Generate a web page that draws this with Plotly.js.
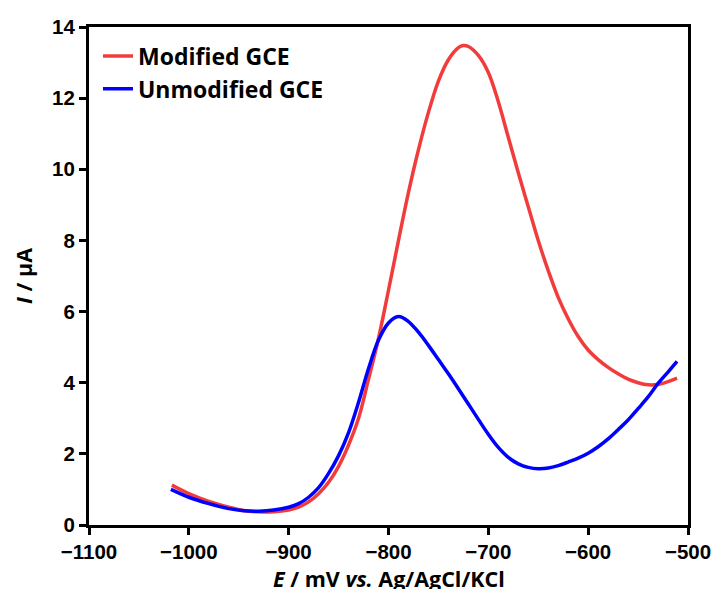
<!DOCTYPE html>
<html>
<head>
<meta charset="utf-8">
<script src="https://cdn.plot.ly/plotly-3.0.1.min.js"></script>
<style>html,body{margin:0;padding:0;background:#fff;}#chart{width:716px;height:589px;}</style>
</head>
<body>
<div id="chart"></div>
<script>
const modifiedE = [-1017,-1000,-980,-960,-945,-930,-915,-900,-890,-880,-870,-860,-850,-840,-830,-820,-810,-800,-790,-780,-770,-760,-750,-740,-730,-725,-720,-710,-700,-690,-680,-670,-660,-650,-640,-630,-620,-610,-600,-590,-580,-570,-560,-550,-540,-530,-520,-511];
const modifiedI = [1.12,0.88,0.66,0.5,0.41,0.37,0.37,0.42,0.5,0.65,0.88,1.2,1.65,2.25,3.0,4.1,5.25,6.6,8.0,9.35,10.55,11.6,12.48,13.08,13.42,13.48,13.45,13.2,12.72,11.9,10.9,9.9,8.95,8.0,7.15,6.4,5.8,5.3,4.92,4.65,4.43,4.25,4.1,4.0,3.94,3.95,4.03,4.13];
const unmodifiedE = [-1018,-1000,-980,-960,-945,-930,-915,-900,-890,-880,-870,-860,-850,-840,-830,-820,-810,-800,-790,-780,-770,-760,-750,-740,-730,-720,-710,-700,-690,-680,-670,-660,-650,-640,-630,-620,-610,-600,-590,-580,-570,-560,-550,-540,-530,-520,-511];
const unmodifiedI = [1.0,0.78,0.6,0.46,0.4,0.39,0.42,0.5,0.6,0.78,1.05,1.45,1.95,2.6,3.45,4.4,5.2,5.68,5.86,5.72,5.42,5.05,4.65,4.25,3.83,3.4,2.97,2.55,2.18,1.9,1.72,1.62,1.58,1.6,1.67,1.77,1.88,2.02,2.2,2.42,2.68,2.95,3.27,3.6,3.98,4.3,4.6];
const xTicks = [-1100,-1000,-900,-800,-700,-600,-500];
const xTickText = ['\u22121100','\u22121000','\u2212900','\u2212800','\u2212700','\u2212600','\u2212500'];
const yTicks = [0,2,4,6,8,10,12,14];
const seriesNames = ['Modified GCE','Unmodified GCE'];
const xTitle = '<i>E</i> / mV <i>vs.</i> Ag/AgCl/KCl';
const yTitle = '<i>I</i> / μA';

const traces = [
  {x: modifiedE, y: modifiedI, name: seriesNames[0], mode:'lines',
   line:{color:'#f23c3c', width:3.5, shape:'spline', smoothing:1}},
  {x: unmodifiedE, y: unmodifiedI, name: seriesNames[1], mode:'lines',
   line:{color:'#0000ff', width:3.5, shape:'spline', smoothing:1}}
];
const tickFont = {family:'Liberation Sans, Arial, sans-serif', size:20.5, color:'#000', weight:'bold'};
const titleFont = {family:'Open Sans, Noto Sans, sans-serif', size:21.5, color:'#000', weight:'bold'};
const layout = {
  width:716, height:589,
  margin:{l:89, r:28, t:27, b:64},
  paper_bgcolor:'#fff', plot_bgcolor:'#fff',
  showlegend:true,
  legend:{x:0.015, y:0.985, xanchor:'left', yanchor:'top', bgcolor:'rgba(0,0,0,0)',
    font:{family:'Open Sans, Noto Sans, sans-serif', size:23, color:'#000', weight:'bold'},
    tracegroupgap:0, itemwidth:30},
  xaxis:{range:[-1100,-500], tickvals:xTicks, ticktext:xTickText, ticks:'outside', ticklen:7, tickwidth:3,
    tickcolor:'#000', showline:true, linecolor:'#000', linewidth:3, mirror:true, showgrid:false, zeroline:false,
    tickfont:tickFont, automargin:false, ticklabelstandoff:-1},
  yaxis:{range:[0,14], tickvals:yTicks, ticks:'outside', ticklen:7, tickwidth:3,
    tickcolor:'#000', showline:true, linecolor:'#000', linewidth:3, mirror:true, showgrid:false, zeroline:false,
    tickfont:tickFont,
    title:{text:yTitle, font:titleFont, standoff:14}},
  annotations:[{text:xTitle, xref:'paper', yref:'paper', x:0.5, y:0, xanchor:'center', yanchor:'middle',
    yshift:-53, showarrow:false, font:titleFont}]
};
Plotly.newPlot('chart', traces, layout, {staticPlot:true, displayModeBar:false});
</script>
</body>
</html>
